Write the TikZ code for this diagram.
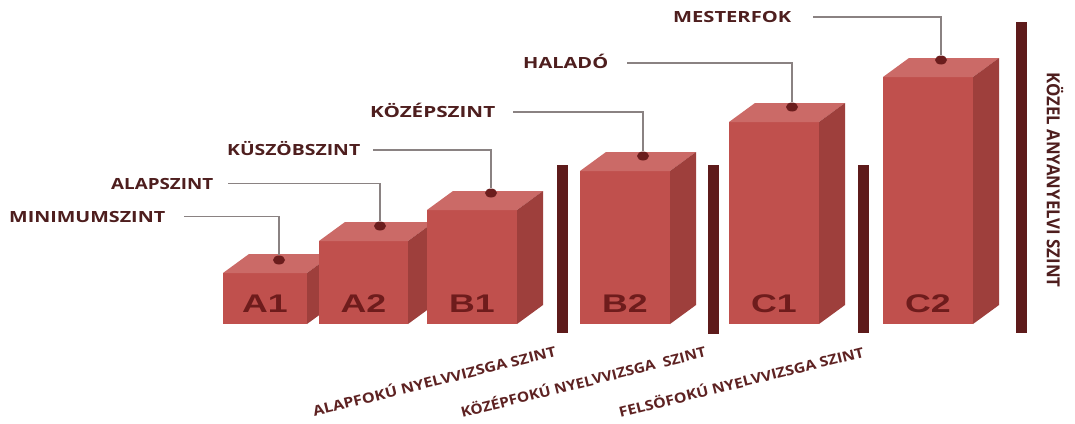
\documentclass[tikz,border=0pt]{standalone}
\usepackage{fontspec}
\usepackage{graphicx}
\setmainfont{Open Sans}
\newfontfamily\boxfont{Liberation Sans}
\usetikzlibrary{calc,shapes.geometric}
\definecolor{frontc}{HTML}{C0504D}
\definecolor{topc}{HTML}{CB6A67}
\definecolor{sidec}{HTML}{9E3F3C}
\definecolor{barc}{HTML}{5E1B1B}
\definecolor{dotc}{HTML}{6B1D1D}
\definecolor{lettc}{HTML}{6E1C1C}
\definecolor{labc}{HTML}{4E1E1E}
\definecolor{blabc}{HTML}{5E2222}
\definecolor{leadc}{HTML}{8A8282}
\pgfdeclarelayer{fg}
\pgfsetlayers{main,fg}
\def\cdx{26}
\def\cdy{19}
\tikzset{
  frontface/.style={fill=frontc, inner sep=0pt, outer sep=0pt, anchor=north west},
  boxlet/.style={inner sep=0pt, text=lettc, text height=18pt, text depth=0pt,
     font=\boxfont\bfseries\fontsize{25.5}{25.5}\selectfont},
  lab/.style={inner sep=0pt, anchor=west, text=labc, text height=11pt, text depth=0pt,
     font=\bfseries\fontsize{15.4}{15.4}\selectfont},
  blab/.style={inner sep=0pt, text=blabc, font=\bfseries\fontsize{14}{14}\selectfont},
  vlab/.style={inner sep=0pt, text=labc, font=\bfseries\fontsize{18}{18}\selectfont},
  leader/.style={draw=leadc, line width=1.1pt},
  dotn/.style={ellipse, fill=dotc, inner sep=0pt, minimum width=12pt, minimum height=9pt},
  barbox/.style={fill=barc, inner sep=0pt, outer sep=0pt, anchor=north west}
}
\newcommand{\cuboid}[6]{% name, xl, width, ytop, height, letter
  \node[frontface, minimum width=#3pt, minimum height=#5pt] (#1) at (#2,#4) {};
  \fill[topc] (#1.north west) -- ++(\cdx,-\cdy) -- ($(#1.north east)+(\cdx,-\cdy)$) -- (#1.north east) -- cycle;
  \fill[sidec] (#1.north east) -- ++(\cdx,-\cdy) -- ($(#1.south east)+(\cdx,-\cdy)$) -- (#1.south east) -- cycle;
  \node[boxlet] (#1t) at ($(#1.south)+(0,-21)$) {\scalebox{1.4}[1]{#6}};
}
\begin{document}
\begin{tikzpicture}[x=1pt, y=-1pt]
\fill[white] (0,0) rectangle (1075,423);
\useasboundingbox (0,0) rectangle (1075,423);

% cuboids
\cuboid{A1}{223}{84}{273}{51}{A1}
\cuboid{A2}{319}{89}{241}{83}{A2}
\cuboid{B1}{427}{90}{210}{114}{B1}
\cuboid{B2}{580}{90}{171}{153}{B2}
\cuboid{C1}{729}{90}{122}{202}{C1}
\cuboid{C2}{883}{90}{77}{247}{C2}

% separator bars
\node[barbox, minimum width=11pt, minimum height=168pt] (s1) at (557,165) {};
\node[barbox, minimum width=11pt, minimum height=169pt] (s2) at (708,165) {};
\node[barbox, minimum width=11pt, minimum height=168pt] (s3) at (858,165) {};
\node[barbox, minimum width=11pt, minimum height=311pt] (s4) at (1016,22) {};

% dots
\begin{pgfonlayer}{fg}
\node[dotn] (d1) at (279,260) {};
\node[dotn] (d2) at (380,226) {};
\node[dotn] (d3) at (491,193) {};
\node[dotn] (d4) at (643,156) {};
\node[dotn] (d5) at (792,107) {};
\node[dotn] (d6) at (941,60) {};
\end{pgfonlayer}

% level labels
\node[lab] (l1) at (9,216.5) {\resizebox{156pt}{\height}{MINIMUMSZINT}};
\node[lab] (l2) at (111,183.5) {\resizebox{102pt}{\height}{ALAPSZINT}};
\node[lab] (l3) at (227,150) {\resizebox{133pt}{\height}{KÜSZÖBSZINT}};
\node[lab] (l4) at (370,112) {\resizebox{125pt}{\height}{KÖZÉPSZINT}};
\node[lab] (l5) at (523,63) {\resizebox{85pt}{\height}{HALADÓ}};
\node[lab] (l6) at (673,17) {\resizebox{118pt}{\height}{MESTERFOK}};

% leaders
\draw[leader] ([xshift=19pt]l1.east) -| (d1);
\draw[leader] ([xshift=15pt]l2.east) -| (d2);
\draw[leader] ([xshift=13pt]l3.east) -| (d3);
\draw[leader] ([xshift=18pt]l4.east) -| (d4);
\draw[leader] ([xshift=19pt]l5.east) -| (d5);
\draw[leader] ([xshift=22pt]l6.east) -| (d6);

% vertical label
\node[vlab, rotate=-90] (kozel) at (1055,180) {\resizebox{215pt}{\height}{KÖZEL ANYANYELVI SZINT}};

% exam labels
\node[blab, rotate=14] (e1) at (434,380) {\resizebox{250pt}{\height}{ALAPFOKÚ NYELVVIZSGA SZINT}};
\node[blab, rotate=14] (e2) at (583,381) {\resizebox{252pt}{\height}{KÖZÉPFOKÚ NYELVVIZSGA\ \ SZINT}};
\node[blab, rotate=14] (e3) at (741,381) {\resizebox{252pt}{\height}{FELSÖFOKÚ NYELVVIZSGA SZINT}};
\end{tikzpicture}
\end{document}
